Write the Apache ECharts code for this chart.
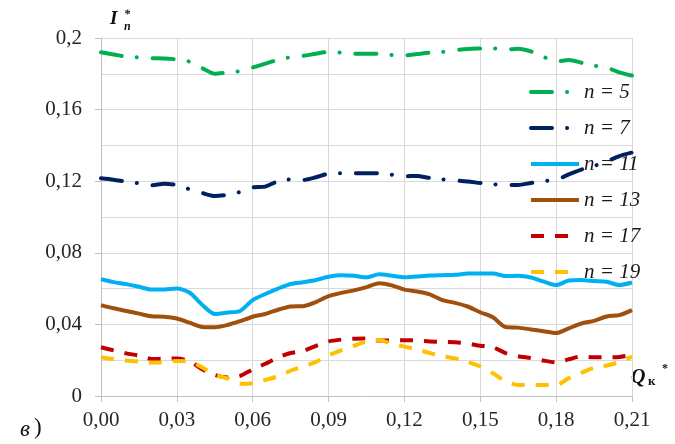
<!DOCTYPE html>
<html>
<head>
<meta charset="utf-8">
<script src="https://cdn.jsdelivr.net/npm/echarts@6/dist/echarts.min.js"></script>
<style>
  html, body { margin: 0; padding: 0; background: #ffffff; }
  #chart { width: 675px; height: 444px; }
</style>
</head>
<body>
<div id="chart"></div>
<script>
// Relative compressor flow Q*к (shared abscissa of all curves)
const qValues = [
  0.000, 0.005, 0.010, 0.015, 0.020, 0.025, 0.030, 0.035, 0.040, 0.045,
  0.050, 0.055, 0.060, 0.065, 0.070, 0.075, 0.080, 0.085, 0.090, 0.095,
  0.100, 0.105, 0.110, 0.115, 0.120, 0.125, 0.130, 0.135, 0.140, 0.145,
  0.150, 0.155, 0.160, 0.165, 0.170, 0.175, 0.180, 0.185, 0.190, 0.195,
  0.200, 0.205, 0.210
];

// Relative harmonic current I*n for each harmonic order n
const harmonic5 = [
  0.1920, 0.1908, 0.1896, 0.1892, 0.1887, 0.1886, 0.1880, 0.1868, 0.1832, 0.1800,
  0.1808, 0.1815, 0.1835, 0.1857, 0.1878, 0.1893, 0.1900, 0.1912, 0.1922, 0.1918,
  0.1912, 0.1912, 0.1912, 0.1905, 0.1902, 0.1910, 0.1918, 0.1922, 0.1932, 0.1939,
  0.1941, 0.1942, 0.1935, 0.1940, 0.1925, 0.1895, 0.1868, 0.1877, 0.1862, 0.1845,
  0.1835, 0.1808, 0.1790
];
const harmonic7 = [
  0.1216, 0.1208, 0.1197, 0.1188, 0.1177, 0.1186, 0.1178, 0.1155, 0.1134, 0.1117,
  0.1124, 0.1140, 0.1165, 0.1170, 0.1200, 0.1210, 0.1207, 0.1222, 0.1242, 0.1244,
  0.1244, 0.1244, 0.1244, 0.1236, 0.1228, 0.1229, 0.1218, 0.1210, 0.1204, 0.1198,
  0.1190, 0.1183, 0.1179, 0.1179, 0.1190, 0.1201, 0.1207, 0.1238, 0.1265, 0.1285,
  0.1310, 0.1340, 0.1360
];
const harmonic11 = [
  0.0652, 0.0636, 0.0625, 0.0610, 0.0595, 0.0595, 0.0600, 0.0578, 0.0510, 0.0458,
  0.0466, 0.0475, 0.0536, 0.0570, 0.0600, 0.0626, 0.0636, 0.0648, 0.0666, 0.0674,
  0.0672, 0.0663, 0.0680, 0.0672, 0.0663, 0.0668, 0.0673, 0.0675, 0.0677, 0.0684,
  0.0685, 0.0685, 0.0670, 0.0672, 0.0662, 0.0640, 0.0620, 0.0645, 0.0648, 0.0642,
  0.0638, 0.0620, 0.0634
];
const harmonic13 = [
  0.0508, 0.0490, 0.0475, 0.0460, 0.0445, 0.0443, 0.0433, 0.0410, 0.0386, 0.0384,
  0.0397, 0.0418, 0.0443, 0.0458, 0.0482, 0.0500, 0.0502, 0.0525, 0.0558, 0.0576,
  0.0590, 0.0608, 0.0630, 0.0618, 0.0594, 0.0584, 0.0568, 0.0536, 0.0520, 0.0500,
  0.0468, 0.0440, 0.0385, 0.0382, 0.0372, 0.0362, 0.0352, 0.0378, 0.0405, 0.0420,
  0.0444, 0.0452, 0.0480
];
const harmonic17 = [
  0.0272, 0.0255, 0.0238, 0.0226, 0.0207, 0.0208, 0.0210, 0.0195, 0.0150, 0.0118,
  0.0104, 0.0112, 0.0149, 0.0180, 0.0215, 0.0240, 0.0252, 0.0280, 0.0305, 0.0315,
  0.0320, 0.0321, 0.0310, 0.0310, 0.0312, 0.0310, 0.0305, 0.0302, 0.0300, 0.0293,
  0.0281, 0.0273, 0.0240, 0.0222, 0.0212, 0.0198, 0.0188, 0.0205, 0.0222, 0.0216,
  0.0216, 0.0218, 0.0230
];
const harmonic19 = [
  0.0216, 0.0206, 0.0198, 0.0192, 0.0187, 0.0190, 0.0196, 0.0192, 0.0160, 0.0118,
  0.0098, 0.0068, 0.0071, 0.0090, 0.0110, 0.0141, 0.0165, 0.0190, 0.0227, 0.0255,
  0.0280, 0.0304, 0.0313, 0.0292, 0.0276, 0.0260, 0.0240, 0.0222, 0.0210, 0.0190,
  0.0165, 0.0127, 0.0082, 0.0062, 0.0061, 0.0061, 0.0061, 0.0100, 0.0130, 0.0158,
  0.0170, 0.0190, 0.0220
];

const seriesNames = ['n = 5', 'n = 7', 'n = 11', 'n = 13', 'n = 17', 'n = 19'];
const xTickLabels = ['0,00', '0,03', '0,06', '0,09', '0,12', '0,15', '0,18', '0,21'];
const yTickLabels = ['0', '0,04', '0,08', '0,12', '0,16', '0,2'];

const serif = '"Liberation Serif", "DejaVu Serif", serif';
const dashDot = [21, 15, 0.1, 16];
const dashed = [13, 11];

const lineDefs = [
  { data: harmonic5,  color: '#00b050', type: dashDot, cap: 'round' },
  { data: harmonic7,  color: '#002060', type: dashDot, cap: 'round' },
  { data: harmonic11, color: '#00b0f0', type: 'solid', cap: 'butt' },
  { data: harmonic13, color: '#9e500c', type: 'solid', cap: 'butt' },
  { data: harmonic17, color: '#c00000', type: dashed,  cap: 'butt' },
  { data: harmonic19, color: '#ffc000', type: dashed,  cap: 'butt' }
];

const chart = echarts.init(document.getElementById('chart'), null, { renderer: 'canvas' });

chart.setOption({
  backgroundColor: '#ffffff',
  animation: false,
  grid: { left: 101, right: 43, top: 38, bottom: 48, containLabel: false },
  legend: {
    orient: 'vertical',
    left: 529,
    top: 81,
    z: 1,
    padding: 0,
    itemWidth: 48,
    itemHeight: 14,
    itemGap: 14,
    data: seriesNames,
    // line-only keys: hide the marker drawn in the middle of each key
    itemStyle: { opacity: 0 },
    lineStyle: { width: 4 },
    textStyle: {
      fontFamily: serif,
      fontStyle: 'italic',
      fontSize: 21,
      lineHeight: 22,
      color: '#1a1a1a',
      padding: [0, 0, 0, 0]
    }
  },
  xAxis: {
    type: 'value',
    min: 0,
    max: 0.21,
    interval: 0.03,
    axisLine: { show: true, lineStyle: { color: '#bfbfbf', width: 1 } },
    axisTick: { show: true, length: 6, lineStyle: { color: '#bfbfbf' } },
    splitLine: { show: true, lineStyle: { color: '#d9d9d9', width: 1 } },
    axisLabel: {
      margin: 14,
      fontFamily: serif,
      fontSize: 21,
      color: '#262626',
      formatter: (v) => xTickLabels[Math.round(v / 0.03)]
    }
  },
  yAxis: {
    type: 'value',
    min: 0,
    max: 0.2,
    interval: 0.04,
    axisLine: { show: true, lineStyle: { color: '#bfbfbf', width: 1 } },
    axisTick: { show: true, length: 6, lineStyle: { color: '#bfbfbf' } },
    splitLine: { show: true, lineStyle: { color: '#d9d9d9', width: 1 } },
    minorTick: { show: false, splitNumber: 2 },
    minorSplitLine: { show: true, lineStyle: { color: '#d9d9d9', width: 1 } },
    axisLabel: {
      margin: 19,
      fontFamily: serif,
      fontSize: 21,
      color: '#262626',
      formatter: (v) => yTickLabels[Math.round(v / 0.04)]
    }
  },
  series: lineDefs.map((d, i) => ({
    name: seriesNames[i],
    type: 'line',
    z: 3,
    smooth: 0.25,
    symbol: 'none',
    showSymbol: false,
    color: d.color,
    lineStyle: { color: d.color, width: 4, type: d.type, cap: d.cap, join: 'round' },
    data: qValues.map((q, k) => [q, d.data[k]])
  })),
  graphic: [
    // axis title I*n
    { type: 'text', left: 110, top: 10, style: { text: 'I', font: 'italic bold 19px ' + serif, fill: '#111' } },
    { type: 'text', left: 124, top: 9, style: { text: '*', font: 'italic bold 12px ' + serif, fill: '#111' } },
    { type: 'text', left: 124, top: 21, style: { text: 'n', font: 'italic bold 12px ' + serif, fill: '#111' } },
    // axis title Qк*
    { type: 'text', left: 631, top: 368, style: { text: 'Q', font: 'italic bold 20px ' + serif, fill: '#111' } },
    { type: 'text', left: 648, top: 375, style: { text: 'к', font: 'bold 13px ' + serif, fill: '#111' } },
    { type: 'text', left: 662, top: 363, style: { text: '*', font: 'bold 12px ' + serif, fill: '#111' } },
    // panel letter
    { type: 'text', left: 20, top: 418, style: { text: 'в', font: 'italic 23px ' + serif, fill: '#111' } },
    { type: 'text', left: 34, top: 416, style: { text: ')', font: '23px ' + serif, fill: '#111' } }
  ]
});
</script>
</body>
</html>
